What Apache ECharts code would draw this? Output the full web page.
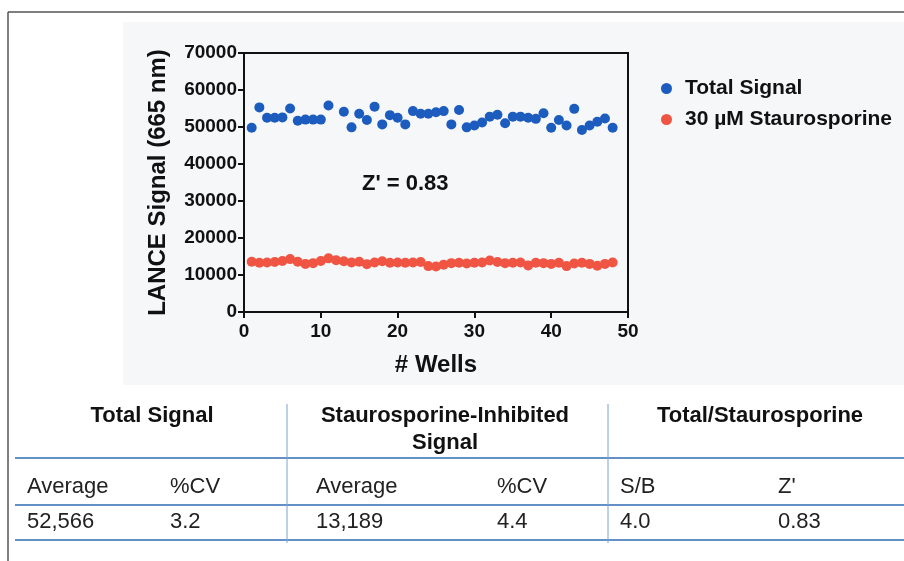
<!DOCTYPE html>
<html>
<head>
<meta charset="utf-8">
<script src="https://cdn.jsdelivr.net/npm/echarts@6/dist/echarts.min.js"></script>
<style>
html,body{margin:0;padding:0;background:#fff;}
#chart{width:904px;height:561px;}
</style>
</head>
<body>
<div id="chart"></div>
<script>
var wells = [];
for (var i = 1; i <= 48; i++) wells.push(i);

var totalSignal = [49800, 55300, 52500, 52500, 52600, 55000, 51700, 52000, 52000, 52000,
    55800, null, 54100, 49900, 53600, 51900, 55500, 50700, 53200, 52500,
    50700, 54300, 53600, 53600, 54000, 54300, 50700, 54600, 49900, 50400,
    51200, 52800, 53300, 51000, 52800, 52800, 52500, 52200, 53700, 49800,
    51900, 50400, 54900, 49200, 50400, 51400, 52300, 49800];

var stauro = [13600, 13300, 13400, 13500, 13800, 14300, 13600, 13000, 13200, 13800,
    14500, 14000, 13700, 13400, 13600, 12900, 13400, 13700, 13300, 13400,
    13300, 13400, 13500, 12400, 12300, 12800, 13200, 13300, 13100, 13300,
    13400, 13900, 13500, 13200, 13300, 13400, 12600, 13300, 13200, 13000,
    13300, 12400, 13100, 13300, 13000, 12500, 13000, 13400];

var seriesNames = ['Total Signal', '30 µM Staurosporine'];

var groupHeaders = ['Total Signal', 'Staurosporine-Inhibited\nSignal', 'Total/Staurosporine'];
var colHeaders = ['Average', '%CV', 'Average', '%CV', 'S/B', "Z'"];
var colValues = ['52,566', '3.2', '13,189', '4.4', '4.0', '0.83'];

var mychart = echarts.init(document.getElementById('chart'));

var font = 'Liberation Sans, Arial, Helvetica, sans-serif';
var colX = [27, 170, 316, 497, 620, 778];
var groupX = [152, 445, 760];

var graphics = [
    { type: 'rect', z: -10, shape: { x: 123, y: 22, width: 781, height: 363 }, style: { fill: '#f6f7f9' } },
    { type: 'line', shape: { x1: 8, y1: 12, x2: 904, y2: 12 }, style: { stroke: '#555', lineWidth: 1.5 } },
    { type: 'line', shape: { x1: 8, y1: 12, x2: 8, y2: 561 }, style: { stroke: '#555', lineWidth: 1.5 } },
    { type: 'text', left: 362, top: 173, style: { text: "Z' = 0.83", font: 'bold 22px ' + font, fill: '#111' } },
    { type: 'line', shape: { x1: 15, y1: 458, x2: 904, y2: 458 }, style: { stroke: '#2f6db3', lineWidth: 1.5 } },
    { type: 'line', shape: { x1: 15, y1: 505, x2: 904, y2: 505 }, style: { stroke: '#2f6db3', lineWidth: 1.5 } },
    { type: 'line', shape: { x1: 15, y1: 540, x2: 904, y2: 540 }, style: { stroke: '#2f6db3', lineWidth: 1.5 } },
    { type: 'line', shape: { x1: 287, y1: 404, x2: 287, y2: 543 }, style: { stroke: '#7aa3d3', lineWidth: 1 } },
    { type: 'line', shape: { x1: 608, y1: 404, x2: 608, y2: 543 }, style: { stroke: '#7aa3d3', lineWidth: 1 } }
];
groupHeaders.forEach(function (t, k) {
    graphics.push({ type: 'text', x: groupX[k], y: 402, style: { text: t, font: 'bold 22px ' + font, fill: '#111', align: 'center', lineHeight: 27 } });
});
colHeaders.forEach(function (t, k) {
    graphics.push({ type: 'text', x: colX[k], y: 476, style: { text: t, font: '22px ' + font, fill: '#222' } });
});
colValues.forEach(function (t, k) {
    graphics.push({ type: 'text', x: colX[k], y: 511, style: { text: t, font: '22px ' + font, fill: '#222' } });
});

var option = {
    animation: false,
    textStyle: { fontFamily: font },
    grid: {
        left: 244,
        right: 276,
        top: 53,
        bottom: 249,
        show: true,
        borderColor: '#111',
        borderWidth: 2
    },
    legend: {
        data: seriesNames,
        orient: 'vertical',
        left: 656,
        top: 73,
        itemGap: 10,
        itemWidth: 11,
        itemHeight: 11,
        icon: 'circle',
        textStyle: { color: '#111', fontSize: 21, fontWeight: 'bold', padding: [0, 0, 0, 8] }
    },
    xAxis: {
        type: 'value',
        min: 0,
        max: 50,
        interval: 10,
        name: '# Wells',
        nameLocation: 'middle',
        nameGap: 41,
        nameTextStyle: { color: '#111', fontSize: 24, fontWeight: 'bold' },
        splitLine: { show: false },
        axisLine: { lineStyle: { color: '#111', width: 2 } },
        axisTick: { length: 6, lineStyle: { color: '#111', width: 2 } },
        axisLabel: { color: '#111', fontSize: 19, fontWeight: 'bold', margin: 10 }
    },
    yAxis: {
        type: 'value',
        min: 0,
        max: 70000,
        interval: 10000,
        name: 'LANCE Signal (665 nm)',
        nameLocation: 'middle',
        nameGap: 74,
        nameTextStyle: { color: '#111', fontSize: 24, fontWeight: 'bold' },
        splitLine: { show: false },
        axisLine: { lineStyle: { color: '#111', width: 2 } },
        axisTick: { length: 6, lineStyle: { color: '#111', width: 2 } },
        axisLabel: { color: '#111', fontSize: 19, fontWeight: 'bold', margin: 7, formatter: function (v) { return String(v); } }
    },
    series: [
        {
            name: seriesNames[0],
            type: 'scatter',
            symbolSize: 10,
            data: wells.map(function (w, k) { return [w, totalSignal[k]]; }),
            itemStyle: { color: '#1c5cbf', opacity: 1 }
        },
        {
            name: seriesNames[1],
            type: 'scatter',
            symbolSize: 10,
            data: wells.map(function (w, k) { return [w, stauro[k]]; }),
            itemStyle: { color: '#f05443', opacity: 1 }
        }
    ],
    graphic: graphics
};
mychart.setOption(option);
</script>
</body>
</html>
